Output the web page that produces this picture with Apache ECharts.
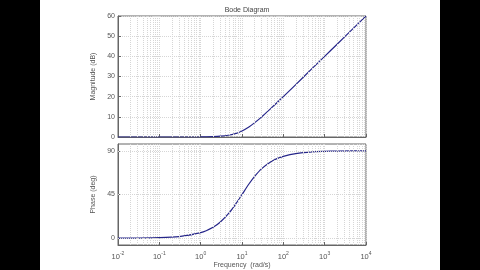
<!DOCTYPE html>
<html>
<head>
<meta charset="utf-8">
<script src="https://cdn.jsdelivr.net/npm/echarts@6/dist/echarts.min.js"></script>
<style>
html,body{margin:0;padding:0;background:#000;}
#c{width:480px;height:270px;}
</style>
</head>
<body>
<div id="c"></div>
<script>
// Data
const freq = [0.01, 0.1, 0.3, 1, 2, 3, 5, 7, 10, 15, 20, 30, 50, 70, 100, 200, 500, 1000, 2000, 5000, 10000];
const magnitude = [0, 0, 0, 0.04, 0.2, 0.4, 1, 1.7, 3, 5.1, 7, 10, 14.2, 17, 20, 26, 34, 40, 46, 54, 60];
const phase = [0, 0.6, 1.7, 5.7, 11.3, 16.7, 26.6, 35, 45, 56.3, 63.4, 71.6, 78.7, 81.9, 84.3, 87.1, 88.9, 89.4, 89.7, 89.9, 89.9];
const decadeExps = [-2, -1, 0, 1, 2, 3, 4];
const magTicks = [0, 10, 20, 30, 40, 50, 60];
const phaseTicks = [0, 45, 90];
const titleText = 'Bode Diagram';
const magLabel = 'Magnitude (dB)';
const phaseLabel = 'Phase (deg)';
const freqLabel = 'Frequency  (rad/s)';

const minorFreqs = [];
for (let i = 0; i < decadeExps.length - 1; i++) {
  for (let m = 2; m <= 9; m++) minorFreqs.push(m * Math.pow(10, decadeExps[i]));
}

const font = 'Liberation Sans, Arial, sans-serif';
const txtColor = '#555';
const gridColor = '#d6d6d6';

const chart = echarts.init(document.getElementById('c'), null, {renderer: 'canvas'});

function xAxisCfg(idx, showLabels) {
  return {
    type: 'log', logBase: 10, gridIndex: idx,
    min: Math.pow(10, decadeExps[0]), max: Math.pow(10, decadeExps[decadeExps.length - 1]),
    axisLine: {show: true, onZero: false, lineStyle: {color: '#666', width: 1}},
    axisTick: {show: true, inside: true, length: 3, lineStyle: {color: '#666'}},
    splitLine: {show: true, lineStyle: {color: gridColor, type: 'dotted', width: 1}},
    axisLabel: {
      show: showLabels, margin: 4, fontFamily: font, color: txtColor,
      formatter: function (v) {
        const e = Math.round(Math.log10(v));
        return '{b|10}{s|' + e + '}';
      },
      rich: {
        b: {fontSize: 7.5, fontFamily: font, color: txtColor, padding: [4, 0, 0, 0]},
        s: {fontSize: 5, fontFamily: font, color: txtColor, padding: [0, 0, 3, 0]}
      }
    },
    name: showLabels ? freqLabel : '',
    nameLocation: 'middle', nameGap: 17,
    nameTextStyle: {fontSize: 7, fontFamily: font, color: txtColor}
  };
}

function minorLines() {
  return {
    silent: true, symbol: 'none', animation: false,
    label: {show: false},
    lineStyle: {color: gridColor, type: 'dotted', width: 1},
    data: minorFreqs.map(f => ({xAxis: f}))
  };
}

const magData = freq.map((f, i) => [f, magnitude[i]]);
const phaseData = freq.map((f, i) => [f, phase[i]]);

chart.setOption({
  backgroundColor: '#fff',
  animation: false,
  title: {
    text: titleText, left: 242, top: 2, textAlign: 'center',
    textStyle: {fontSize: 7, fontWeight: 'normal', fontFamily: font, color: '#444'}
  },
  grid: [
    {left: 118, right: 114, top: 16, height: 121, show: true, borderColor: '#666', borderWidth: 1, backgroundColor: '#fff'},
    {left: 118, right: 114, top: 144, height: 104, show: true, borderColor: '#666', borderWidth: 1, backgroundColor: '#fff'}
  ],
  xAxis: [xAxisCfg(0, false), xAxisCfg(1, true)],
  yAxis: [
    {
      type: 'value', gridIndex: 0, min: 0, max: 60, interval: 10,
      axisLine: {show: true, lineStyle: {color: '#666'}},
      axisTick: {show: true, inside: true, length: 3, lineStyle: {color: '#666'}},
      splitLine: {show: true, lineStyle: {color: gridColor, type: 'dotted'}},
      axisLabel: {fontSize: 7, fontFamily: font, color: txtColor, margin: 3},
      name: magLabel, nameLocation: 'middle', nameGap: 14,
      nameTextStyle: {fontSize: 7, fontFamily: font, color: txtColor}
    },
    {
      type: 'value', gridIndex: 1, min: -7, max: 97,
      axisLine: {show: true, lineStyle: {color: '#666'}},
      axisTick: {show: true, inside: true, length: 3, customValues: phaseTicks, lineStyle: {color: '#666'}},
      splitLine: {show: false},
      axisLabel: {fontSize: 7, fontFamily: font, color: txtColor, margin: 3, customValues: phaseTicks},
      name: phaseLabel, nameLocation: 'middle', nameGap: 14,
      nameTextStyle: {fontSize: 7, fontFamily: font, color: txtColor}
    }
  ],
  graphic: [
    {type: 'rect', left: 0, top: 0, shape: {width: 40, height: 270}, style: {fill: '#000'}, z: 100},
    {type: 'rect', left: 440, top: 0, shape: {width: 40, height: 270}, style: {fill: '#000'}, z: 100}
  ],
  series: [
    {
      type: 'line', xAxisIndex: 0, yAxisIndex: 0, data: magData, smooth: 0.3,
      showSymbol: false, lineStyle: {color: '#26268a', width: 1.2},
      markLine: minorLines()
    },
    {
      type: 'line', xAxisIndex: 1, yAxisIndex: 1, data: phaseData, smooth: 0.3,
      showSymbol: false, lineStyle: {color: '#26268a', width: 1.2},
      markLine: Object.assign(minorLines(), {
        data: minorFreqs.map(f => ({xAxis: f})).concat(phaseTicks.map(v => ({yAxis: v})))
      })
    }
  ]
});
</script>
</body>
</html>
